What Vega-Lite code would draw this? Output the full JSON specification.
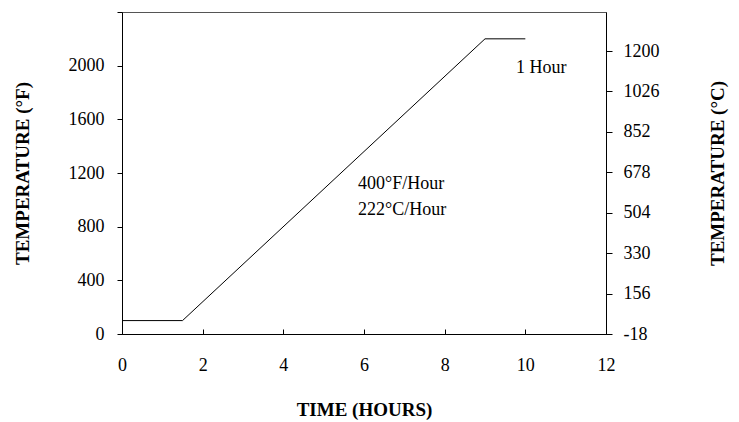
{
  "$schema": "https://vega.github.io/schema/vega-lite/v6.json",
  "width": 484,
  "height": 322,
  "autosize": "none",
  "padding": {"left": 122, "top": 12, "right": 133, "bottom": 88},
  "background": "white",
  "config": {
    "view": {"stroke": "#555", "strokeWidth": 1},
    "axis": {
      "labelFont": "Liberation Serif",
      "titleFont": "Liberation Serif",
      "labelFontSize": 18,
      "titleFontSize": 19,
      "titleFontWeight": "bold",
      "domainColor": "black",
      "tickColor": "black",
      "labelColor": "black",
      "titleColor": "black",
      "grid": false
    }
  },
  "datasets": {
    "ramp": [
      {"hours": 0, "tempF": 100},
      {"hours": 1.5, "tempF": 100},
      {"hours": 9, "tempF": 2200},
      {"hours": 10, "tempF": 2200}
    ],
    "notes": [
      {"hours": 9.77, "tempF": 1983, "label": "1 Hour"},
      {"hours": 5.85, "tempF": 1118, "label": "400°F/Hour"},
      {"hours": 5.85, "tempF": 924, "label": "222°C/Hour"}
    ],
    "celsius": [
      {"tempC": -18}, {"tempC": 156}, {"tempC": 330}, {"tempC": 504},
      {"tempC": 678}, {"tempC": 852}, {"tempC": 1026}, {"tempC": 1200}
    ]
  },
  "layer": [
    {
      "data": {"name": "ramp"},
      "mark": {"type": "line", "color": "black", "strokeWidth": 1},
      "encoding": {
        "x": {
          "field": "hours", "type": "quantitative",
          "scale": {"domain": [0, 12], "nice": false},
          "axis": {
            "title": "TIME (HOURS)",
            "values": [0, 2, 4, 6, 8, 10, 12],
            "labelExpr": "toString(datum.value)",
            "tickSize": -5,
            "labelPadding": 27,
            "titlePadding": 26,
            "labelFlush": false
          }
        },
        "y": {
          "field": "tempF", "type": "quantitative",
          "scale": {"domain": [0, 2400], "nice": false},
          "axis": {
            "orient": "left",
            "title": "TEMPERATURE (°F)",
            "values": [0, 400, 800, 1200, 1600, 2000, 2400],
            "labelExpr": "datum.value == 2400 ? '' : toString(datum.value)",
            "tickSize": 5,
            "labelPadding": 13,
            "titlePadding": 36,
            "labelFlush": false
          }
        }
      }
    },
    {
      "data": {"name": "notes"},
      "mark": {"type": "text", "align": "left", "baseline": "middle", "font": "Liberation Serif", "fontSize": 18, "color": "black"},
      "encoding": {
        "x": {"field": "hours", "type": "quantitative", "scale": {"domain": [0, 12], "nice": false}},
        "y": {"field": "tempF", "type": "quantitative", "scale": {"domain": [0, 2400], "nice": false}, "axis": null},
        "text": {"field": "label"}
      }
    },
    {
      "data": {"name": "celsius"},
      "mark": {"type": "point", "opacity": 0},
      "encoding": {
        "y": {
          "field": "tempC", "type": "quantitative",
          "scale": {"domain": [-18, 1368], "nice": false, "zero": false},
          "axis": {
            "orient": "right",
            "title": "TEMPERATURE (°C)",
            "titleAngle": 270,
            "values": [-18, 156, 330, 504, 678, 852, 1026, 1200],
            "labelExpr": "toString(datum.value)",
            "tickSize": 6,
            "labelPadding": 11,
            "titlePadding": 68,
            "labelFlush": false
          }
        }
      }
    }
  ],
  "resolve": {"scale": {"y": "independent"}}
}
